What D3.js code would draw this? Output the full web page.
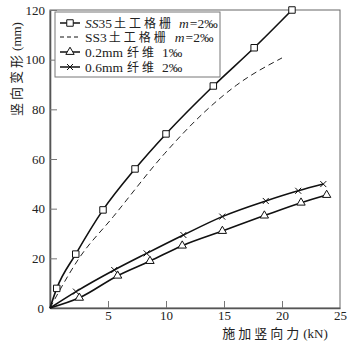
<!DOCTYPE html>
<html><head><meta charset="utf-8">
<script src="https://cdn.jsdelivr.net/npm/d3@7"></script>
<style>body{margin:0;background:#fff}svg{display:block}</style>
</head><body>
<script>
const xTicks = [5, 10, 15, 20, 25];
const yTicks = [0, 20, 40, 60, 80, 100, 120];
const ss35 = [[0,0],[0.58,7.9],[2.22,21.7],[4.57,39.5],[7.33,56.0],[10.0,70.1],[14.08,89.4],[17.6,104.8],[20.86,120]];
const ss3 = [[0,0],[0.7,6],[2.4,19.3],[5.46,36.8],[9.9,62.3],[13.2,78.4],[16.1,89.8],[20.0,100.7]];
const fib02 = [[0,0],[2.53,4.1],[5.83,13.0],[8.62,18.9],[11.4,25.1],[14.86,31.0],[18.48,37.2],[21.64,42.4],[23.85,45.5]];
const fib06 = [[0,0],[2.24,6.6],[5.54,15.3],[8.33,22.0],[11.5,29.4],[14.85,36.8],[18.6,43.1],[21.4,47.2],[23.56,49.9]];
// legend labels split into runs: [text, kind]  kind: l=latin, i=latin italic, c=cjk
const legendLabels = [
  [["SS","i"],["35","l"],["土工格栅","c"],["m","i"],["=2‰","l"]],
  [["SS3","l"],["土工格栅","c"],["m","i"],["=2‰","l"]],
  [["0.2mm","l"],["纤维","c"],["1‰","l"]],
  [["0.6mm","l"],["纤维","c"],["2‰","l"]]
];
const yTitle = ["竖向变形","(mm)"];
const xTitle = ["施加竖向力","(kN)"];

const W=357,H=341;
const svg=d3.select("body").append("svg").attr("width",W).attr("height",H);
const x=d3.scaleLinear().domain([0,25]).range([50,340]);
const y=d3.scaleLinear().domain([0,120]).range([308,10]);
const serif="'Liberation Serif','DejaVu Serif',serif";
const cjk="'Noto Sans CJK SC',sans-serif";

// frame
svg.append("rect").attr("x",50).attr("y",10).attr("width",290).attr("height",298)
  .attr("fill","none").attr("stroke","#666").attr("stroke-width",1);
// axes
const ya=svg.append("g").attr("transform","translate(50,0)")
  .call(d3.axisLeft(y).tickValues(yTicks.filter(v=>v>0)).tickSizeInner(-7).tickSizeOuter(0).tickPadding(5));
const xa=svg.append("g").attr("transform","translate(0,308)")
  .call(d3.axisBottom(x).tickValues(xTicks).tickSizeInner(-7).tickSizeOuter(0).tickPadding(3));
[ya,xa].forEach(g=>{
  g.select(".domain").attr("stroke","#555").attr("stroke-width",1.6);
  g.selectAll(".tick line").attr("stroke","#777");
  g.selectAll(".tick text").attr("font-family",serif).attr("font-size",13).attr("fill","#222");
});
xa.selectAll(".tick").filter(d=>d===25).select("line").remove();
svg.append("text").attr("x",44).attr("y",313).attr("text-anchor","end")
  .attr("font-family",serif).attr("font-size",13).attr("fill","#222").text(yTicks[0]);

// titles
function runs(g, parts, size, spacing){
  let cx=0;
  parts.forEach((p)=>{
    const isC=/[\u4e00-\u9fff]/.test(p);
    const t=g.append("text").attr("x",cx).attr("y",0).attr("font-size",size).attr("fill","#222")
      .attr("font-family",isC?cjk:serif).attr("letter-spacing",isC?spacing:0).text(p);
    cx+=t.node().getComputedTextLength()+(isC?1:0);
  });
  return cx;
}
const yt=svg.append("g");
const yw=runs(yt,yTitle,13,3);
yt.attr("transform",`translate(21,${69+yw/2}) rotate(-90)`);
const xt=svg.append("g");
const xw=runs(xt,xTitle,13,3);
xt.attr("transform",`translate(${275-xw/2},338)`);

const line=d3.line().x(d=>x(d[0])).y(d=>y(d[1])).curve(d3.curveMonotoneX);
const plot=svg.append("g");
plot.append("path").datum(ss35).attr("d",line).attr("fill","none").attr("stroke","#111").attr("stroke-width",1.6);
plot.append("path").datum(ss3).attr("d",line).attr("fill","none").attr("stroke","#222").attr("stroke-width",1).attr("stroke-dasharray","6,4");
plot.append("path").datum(fib02).attr("d",line).attr("fill","none").attr("stroke","#111").attr("stroke-width",1.6);
plot.append("path").datum(fib06).attr("d",line).attr("fill","none").attr("stroke","#111").attr("stroke-width",1.6);

const sq=d3.symbol().type(d3.symbolSquare).size(42);
const tri=d3.symbol().type(d3.symbolTriangle).size(30);
plot.selectAll(".sq").data(ss35.slice(1)).join("path").attr("d",sq)
  .attr("transform",d=>`translate(${x(d[0])},${y(d[1])})`).attr("fill","#fff").attr("stroke","#111").attr("stroke-width",1);
plot.selectAll(".tr").data(fib02.slice(1)).join("path").attr("d",tri)
  .attr("transform",d=>`translate(${x(d[0])},${y(d[1])})`).attr("fill","#fff").attr("stroke","#111").attr("stroke-width",1);
const crossPath="M-3,-3L3,3M-3,3L3,-3";
plot.selectAll(".cr").data(fib06.slice(1)).join("path").attr("d",crossPath)
  .attr("transform",d=>`translate(${x(d[0])},${y(d[1])})`).attr("fill","none").attr("stroke","#111").attr("stroke-width",1);

// legend
const lg=svg.append("g");
lg.append("rect").attr("x",55).attr("y",12).attr("width",165).attr("height",65)
  .attr("fill","#fff").attr("stroke","#777").attr("stroke-width",1);
const rows=[23,37,52,67];
rows.forEach((ry,i)=>{
  const l=lg.append("line").attr("x1",60).attr("x2",80).attr("y1",ry).attr("y2",ry).attr("stroke","#111")
    .attr("stroke-width",i===1?1:1.5);
  if(i===1) l.attr("stroke-dasharray","4,3");
  if(i===0) lg.append("path").attr("d",sq).attr("transform",`translate(70,${ry})`).attr("fill","#fff").attr("stroke","#111");
  if(i===2) lg.append("path").attr("d",tri).attr("transform",`translate(70,${ry})`).attr("fill","#fff").attr("stroke","#111");
  if(i===3) lg.append("path").attr("d",crossPath).attr("transform",`translate(70,${ry})`).attr("fill","none").attr("stroke","#111");
  let cx=85;
  const gaps = i===0 ? [0,2,5,1,0] : i===1 ? [2,6,1,0] : [4,5,0];
  legendLabels[i].forEach(([s,k],j)=>{
    const isC=k==="c";
    const sp=isC?3:0;
    const t=lg.append("text").attr("x",cx).attr("y",ry+4.5).attr("fill","#222")
      .attr("font-size",isC?12:13.5).attr("font-family",isC?cjk:serif)
      .attr("font-style",k==="i"?"italic":"normal").attr("letter-spacing",sp).text(s);
    cx+=t.node().getComputedTextLength()+(gaps[j]||0);
  });
});
</script>
</body></html>
